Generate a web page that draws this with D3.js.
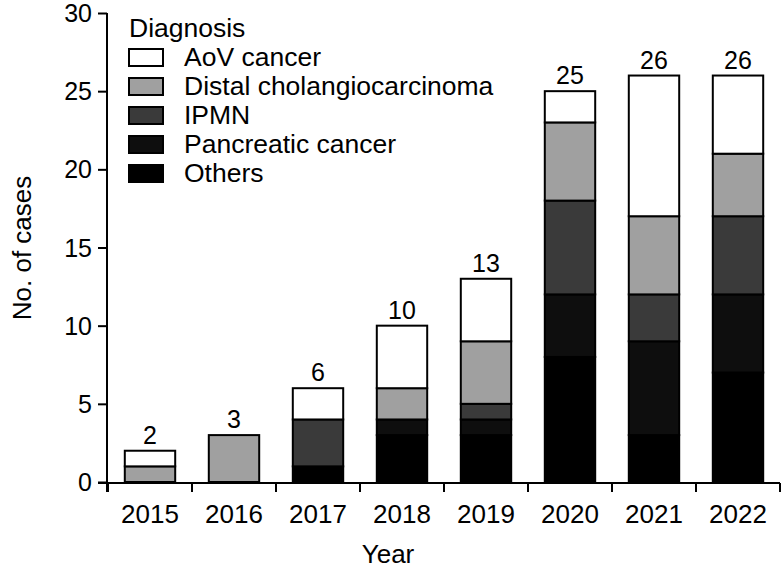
<!DOCTYPE html>
<html><head><meta charset="utf-8">
<script src="https://cdn.jsdelivr.net/npm/d3@7"></script>
<style>body{margin:0;background:#fff}svg{display:block;font-family:"Liberation Sans",Arial,sans-serif}</style>
</head><body><svg id="c" width="782" height="571"></svg>
<script>
const years = ["2015","2016","2017","2018","2019","2020","2021","2022"];
const diagnoses = ["Others","Pancreatic cancer","IPMN","Distal cholangiocarcinoma","AoV cancer"];
const others     = [0,0,1,3,3,8,3,7];
const pancreatic = [0,0,0,1,1,4,6,5];
const ipmn       = [0,0,3,0,1,6,3,5];
const distal     = [1,3,0,2,4,5,5,4];
const aov        = [1,0,2,4,4,2,9,5];
const yTicks = [0,5,10,15,20,25,30];
const legendOrder = ["AoV cancer","Distal cholangiocarcinoma","IPMN","Pancreatic cancer","Others"];
const colors = {"AoV cancer":"#ffffff","Distal cholangiocarcinoma":"#a0a0a0","IPMN":"#3a3a3a","Pancreatic cancer":"#0e0e0e","Others":"#000000"};

const seriesVals = {"Others":others,"Pancreatic cancer":pancreatic,"IPMN":ipmn,"Distal cholangiocarcinoma":distal,"AoV cancer":aov};
const rows = years.map((y,i)=>{const r={year:y};diagnoses.forEach(d=>r[d]=seriesVals[d][i]);return r;});
const stack = d3.stack().keys(diagnoses)(rows);

const svg = d3.select("#c");
const x = d3.scaleBand().domain(years).range([108,780]).padding(0);
const y = d3.scaleLinear().domain([0,30]).range([482,13]);
const bw = x.bandwidth()*0.6;

// bars
stack.forEach(s=>{
  svg.append("g").selectAll("rect").data(s.filter(d=>d[1]-d[0]>0)).join("rect")
    .attr("x",d=>x(d.data.year)+(x.bandwidth()-bw)/2)
    .attr("width",bw)
    .attr("y",d=>y(d[1]))
    .attr("height",d=>y(d[0])-y(d[1]))
    .attr("fill",colors[s.key])
    .attr("stroke","#000").attr("stroke-width",2);
});

// totals
svg.append("g").selectAll("text").data(rows).join("text")
  .attr("x",d=>x(d.year)+x.bandwidth()/2)
  .attr("y",d=>y(diagnoses.reduce((a,k)=>a+d[k],0))-7)
  .attr("text-anchor","middle").attr("font-size",25)
  .text(d=>diagnoses.reduce((a,k)=>a+d[k],0));

// y axis
const ya = svg.append("g").attr("transform","translate(107,0)")
  .call(d3.axisLeft(y).tickValues(yTicks).tickSize(9).tickPadding(6).tickSizeOuter(0));
ya.select(".domain").attr("stroke-width",2).attr("d","M0,"+y(30)+"V492");
ya.selectAll(".tick line").attr("stroke-width",2);
ya.selectAll(".tick text").attr("font-size",25).attr("font-family","Liberation Sans, Arial, sans-serif").attr("fill","#000").attr("dy","0.34em");

// x axis
const xa = svg.append("g").attr("transform","translate(0,483)");
xa.append("line").attr("x1",98).attr("x2",780).attr("stroke","#000").attr("stroke-width",2);
const bounds = years.map(d=>x(d)).concat([x(years[years.length-1])+x.bandwidth()]);
xa.selectAll("line.t").data(bounds).join("line").attr("class","t")
  .attr("x1",d=>d).attr("x2",d=>d).attr("y1",0).attr("y2",9).attr("stroke","#000").attr("stroke-width",2);
xa.selectAll("text").data(years).join("text")
  .attr("x",d=>x(d)+x.bandwidth()/2).attr("y",40)
  .attr("text-anchor","middle").attr("font-size",26).text(d=>d);

// axis titles
svg.append("text").attr("x",388).attr("y",563).attr("text-anchor","middle").attr("font-size",26).text("Year");
svg.append("text").attr("transform","translate(31,248) rotate(-90)").attr("text-anchor","middle").attr("font-size",26).text("No. of cases");

// legend
const lg = svg.append("g");
lg.append("text").attr("x",129).attr("y",37).attr("font-size",26.5).text("Diagnosis");
const li = lg.selectAll("g.i").data(legendOrder).join("g").attr("class","i")
  .attr("transform",(d,i)=>`translate(128,${57+i*29})`);
li.append("rect").attr("x",1).attr("y",-8).attr("width",34).attr("height",17)
  .attr("fill",d=>colors[d]).attr("stroke","#000").attr("stroke-width",2);
li.append("text").attr("x",56).attr("y",9).attr("font-size",26.5).text(d=>d);
</script></body></html>
